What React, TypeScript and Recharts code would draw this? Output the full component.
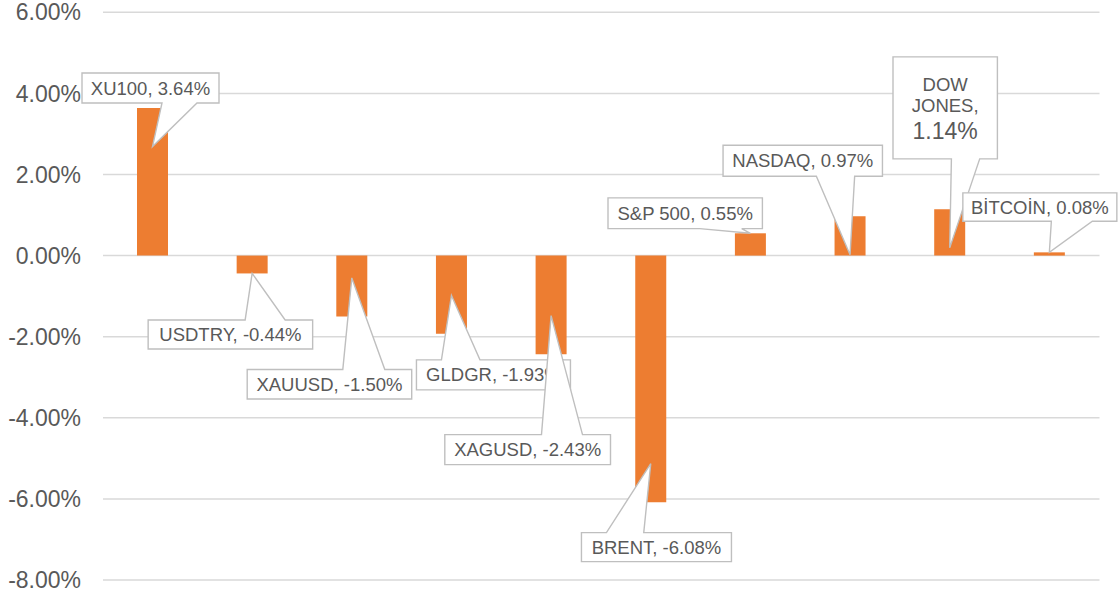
import React from 'react';
import { BarChart, Bar, XAxis, YAxis, CartesianGrid, LabelList } from 'recharts';

const categories = ['XU100', 'USDTRY', 'XAUUSD', 'GLDGR', 'XAGUSD', 'BRENT', 'S&P 500', 'NASDAQ', 'DOW JONES', 'BİTCOİN'];
const changes = [3.64, -0.44, -1.5, -1.93, -2.43, -6.08, 0.55, 0.97, 1.14, 0.08];
const yTicks = [-8, -6, -4, -2, 0, 2, 4, 6];

const data = categories.map((name, i) => ({ name, value: changes[i] }));

// callout placement relative to the pointer tip (px)
const callouts = [
  { bx: -70.5, by: -73.5, w: 137, h: 30, b1: 9.5, b2: 44.5 },
  { bx: -104, by: 46.5, w: 164.5, h: 29, b1: -7, b2: 33 },
  { bx: -104.6, by: 91.5, w: 164.5, h: 29.5, b1: -9, b2: 33 },
  { bx: -35, by: 64.5, w: 154, h: 30, b1: -10, b2: 28.5 },
  { bx: -106.3, by: 119, w: 165.7, h: 30, b1: -9.6, b2: 31.4 },
  { bx: -69.3, by: 69, w: 150, h: 29, b1: -44.3, b2: -7 },
  { bx: -142.4, by: -35.4, w: 154.4, h: 30.7, b1: -50.7, b2: -8.7 },
  { bx: -127, by: -109.5, w: 159.4, h: 31, b1: -33.7, b2: 4.6 },
  { bx: -56.7, by: -191, w: 104.4, h: 102, b1: 1.7, b2: 30, wrap: true },
  { bx: -86.5, by: -59.5, w: 154, h: 28.4, b1: 2, b2: 43 },
];

const FONT = '"Liberation Sans", Arial, sans-serif';
const TEXT = '#595959';

const fmt = (v: number) => `${v.toFixed(2)}%`;

const Callout = (props: any) => {
  const vb = props.viewBox || {};
  const x = props.x ?? vb.x;
  const y = props.y ?? vb.y;
  const width = props.width ?? vb.width;
  const height = props.height ?? vb.height;
  const v = Number(props.value);
  let idx = props.index;
  if (idx === undefined || idx === null) idx = changes.indexOf(v);
  const c = callouts[idx];
  if (!c) return null;
  const cx = x + width / 2;
  const e1 = y;
  const e2 = y + height;
  const end = v >= 0 ? Math.min(e1, e2) : Math.max(e1, e2);
  const len = Math.abs(height);
  const inset = 38.5;
  const tipY = len < inset ? end : v >= 0 ? end + inset : end - inset;
  const L = cx + c.bx;
  const T = tipY + c.by;
  const R = L + c.w;
  const B = T + c.h;
  const lo = cx + Math.min(c.b1, c.b2);
  const hi = cx + Math.max(c.b1, c.b2);
  let d: string;
  if (c.by < 0) {
    d = `M${L},${T} H${R} V${B} H${hi} L${cx},${tipY} L${lo},${B} H${L} Z`;
  } else {
    d = `M${L},${T} H${lo} L${cx},${tipY} L${hi},${T} H${R} V${B} H${L} Z`;
  }
  const mid = L + c.w / 2;
  const name = categories[idx];
  return (
    <g>
      <path d={d} fill="#ffffff" stroke="#bfbfbf" strokeWidth={1.4} strokeLinejoin="miter" />
      {c.wrap ? (
        <text textAnchor="middle" fontFamily={FONT} fill={TEXT}>
          <tspan x={mid} y={T + 33.8} fontSize={18.5}>DOW</tspan>
          <tspan x={mid} y={T + 55.3} fontSize={18.5}>JONES,</tspan>
          <tspan x={mid} y={T + 81.9} fontSize={23}>{fmt(v)}</tspan>
        </text>
      ) : (
        <text x={mid} y={T + c.h / 2 + 6.6} textAnchor="middle" fontFamily={FONT} fontSize={18.5} fill={TEXT}>
          {`${name}, ${fmt(v)}`}
        </text>
      )}
    </g>
  );
};

export default function App() {
  return (
    <div style={{ position: 'absolute', left: 0, top: 0, width: 1118, height: 597, background: '#ffffff' }}>
      <BarChart
        width={1118}
        height={597}
        data={data}
        margin={{ top: 12.3, right: 18.5, bottom: 17, left: 0 }}
      >
        <CartesianGrid vertical={false} stroke="#d9d9d9" strokeWidth={1.5} />
        <XAxis dataKey="name" hide />
        <YAxis
          width={103}
          domain={[-8, 6]}
          ticks={yTicks}
          interval={0}
          axisLine={false}
          tickLine={false}
          tickSize={0}
          tickMargin={22}
          tickFormatter={(v: number) => fmt(v)}
          tick={{ fill: TEXT, fontSize: 23, fontFamily: FONT }}
        />
        <Bar dataKey="value" fill="#ED7D31" barSize={31} isAnimationActive={false}>
          <LabelList dataKey="value" content={<Callout />} />
        </Bar>
      </BarChart>
    </div>
  );
}
